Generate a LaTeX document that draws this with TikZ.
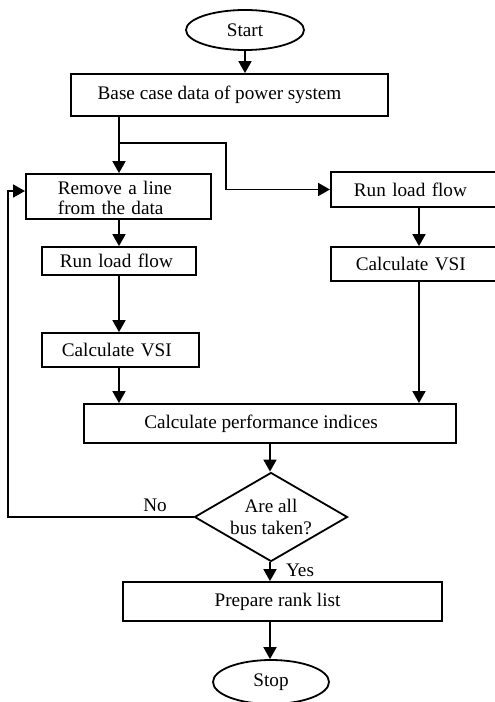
\documentclass[tikz,border=0pt]{standalone}
\usepackage{fontspec}
\setmainfont{Liberation Serif}
\usetikzlibrary{shapes.geometric,arrows.meta}
\begin{document}
\begin{tikzpicture}[x=1pt,y=-1pt,
  font=\fontsize{19.2}{22}\selectfont,
  line width=1.8pt,
  arr/.style={-{Triangle[length=12pt,width=13pt]}},
  box/.style={draw, rectangle, inner sep=0pt},
  term/.style={draw, ellipse, inner sep=0pt}]
\clip (0,0) rectangle (495,702);
% nodes
\node[term, minimum width=118pt, minimum height=40pt] (start) at (245,30) {Start};
\node[box, minimum width=317pt, minimum height=42pt] (base) at (229.5,95) {\hspace*{-20pt}Base case data of power system};
\node[box, anchor=west, minimum height=45pt, text width=121pt, inner xsep=32pt, align=left, font=\fontsize{19.2}{20.5}\selectfont] (remove) at (25,196.5) {\rule{0pt}{16pt}Remove a line\\from the data};
\node[box, anchor=west, minimum height=35pt, text width=167pt, inner xsep=23pt, align=left] (rlfR) at (330,189.5) {Run load flow};
\node[box, anchor=west, minimum height=34pt, text width=165pt, inner xsep=25pt, align=left] (cvsiR) at (330,264) {Calculate VSI};
\node[box, anchor=west, minimum height=28pt, text width=118pt, inner xsep=18pt, align=left] (rlfL) at (41,261) {Run load flow};
\node[box, anchor=west, minimum height=34pt, text width=117pt, inner xsep=20pt, align=left] (cvsiL) at (41,350) {Calculate VSI};
\node[box, minimum width=372pt, minimum height=39pt] (perf) at (270,423.5) {\hspace*{-18pt}Calculate performance indices};
\node[draw, diamond, aspect=1.72, inner sep=0pt, minimum width=153pt, minimum height=89pt, align=center] (dec) at (271,517) {Are all\\bus taken?};
\node[box, minimum width=319pt, minimum height=39pt] (prep) at (282.5,601.5) {\hspace*{-10pt}Prepare rank list};
\node[term, minimum width=116pt, minimum height=44pt] (stop) at (271,682) {Stop};
\node (no) at (155,505) {No};
\node (yes) at (300,570) {Yes};
% helper coordinates
\coordinate (lx) at (119,143);
\coordinate (bx) at (226,143);
\coordinate (rx) at (419,0);
\coordinate (cx) at (270,0);
\coordinate (loop) at (8,191);
% connectors
\draw[arr] (start.south) -- (start.south |- base.north);
\draw (lx |- base.south) -- (lx);
\draw[arr] (lx) -- (lx |- remove.north);
\draw[arr] (lx) -- (bx) |- (rlfR.west);
\draw[arr] (lx |- remove.south) -- (lx |- rlfL.north);
\draw[arr] (lx |- rlfL.south) -- (lx |- cvsiL.north);
\draw[arr] (lx |- cvsiL.south) -- (lx |- perf.north);
\draw[arr] (rx |- rlfR.south) -- (rx |- cvsiR.north);
\draw[arr] (rx |- cvsiR.south) -- (rx |- perf.north);
\draw[arr] (cx |- perf.south) -- (cx |- dec.north);
\draw[arr] (dec.west) -| (loop) -- (loop -| remove.west);
\draw[arr] (cx |- dec.south) -- (cx |- prep.north);
\draw[arr] (cx |- prep.south) -- (cx |- stop.north);
\end{tikzpicture}
\end{document}
